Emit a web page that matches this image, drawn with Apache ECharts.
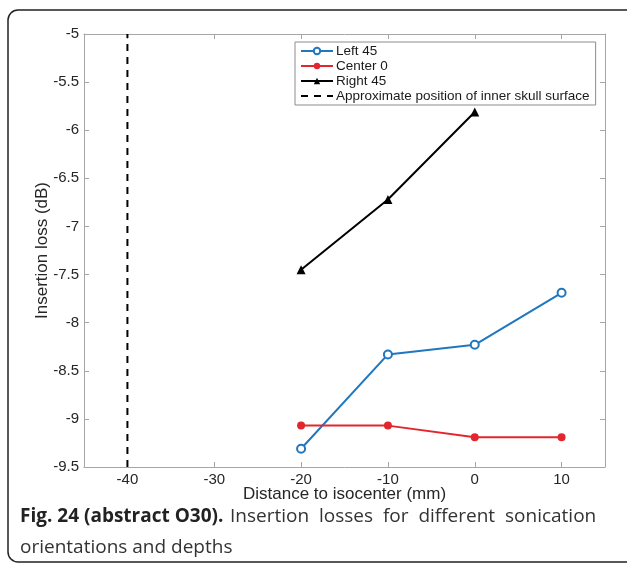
<!DOCTYPE html>
<html>
<head>
<meta charset="utf-8">
<script src="https://cdn.jsdelivr.net/npm/echarts@6/dist/echarts.min.js"></script>
<style>
  html, body { margin: 0; padding: 0; background: #fff; }
  #main { width: 627px; height: 568px; }
</style>
</head>
<body>
<div id="main"></div>
<script>
// distances (mm) where each orientation was measured
const distances = [-20, -10, 0, 10];
const left45 = [-9.31, -8.33, -8.23, -7.69];
const center0 = [-9.07, -9.07, -9.19, -9.19];
const right45 = [-7.45, -6.72, -5.81];
const skullX = -40;
const yRange = [-9.5, -5];

const xTicks = [-40, -30, -20, -10, 0, 10];

const axisGray = '#a6a6a6';
const labelColor = '#262626';
const font = '"Liberation Sans", Arial, sans-serif';

const pairs = (xs, ys) => ys.map((y, i) => [xs[i], y]);

const chart = echarts.init(document.getElementById('main'));

const baseX = {
  type: 'value',
  min: -45,
  max: 15,
  axisLine: { onZero: false, lineStyle: { color: axisGray, width: 1 } },
  axisTick: { inside: true, length: 5, customValues: xTicks, lineStyle: { color: axisGray } },
  splitLine: { show: false },
};
const baseY = {
  type: 'value',
  min: yRange[0],
  max: yRange[1],
  interval: 0.5,
  axisLine: { onZero: false, lineStyle: { color: axisGray, width: 1 } },
  axisTick: { inside: true, length: 5, lineStyle: { color: axisGray } },
  splitLine: { show: false },
};

const option = {
  animation: false,
  backgroundColor: '#fff',
  grid: { left: 84, right: 22, top: 34, bottom: 101 },
  xAxis: [
    Object.assign({}, baseX, {
      position: 'bottom',
      axisLabel: {
        color: labelColor, fontFamily: font, fontSize: 15, margin: 5,
        customValues: xTicks,
      },
      name: 'Distance to isocenter (mm)',
      nameLocation: 'middle',
      nameGap: 19,
      nameMoveOverlap: false,
      nameTextStyle: { color: labelColor, fontFamily: font, fontSize: 17 },
    }),
    Object.assign({}, baseX, { position: 'top', axisLabel: { show: false } }),
  ],
  yAxis: [
    Object.assign({}, baseY, {
      position: 'left',
      axisLabel: { color: labelColor, fontFamily: font, fontSize: 15, margin: 5 },
      name: 'Insertion loss (dB)',
      nameLocation: 'middle',
      nameGap: 33,
      nameMoveOverlap: false,
      nameTextStyle: { color: labelColor, fontFamily: font, fontSize: 17 },
    }),
    Object.assign({}, baseY, { position: 'right', axisLabel: { show: false } }),
  ],
  legend: {
    orient: 'vertical',
    left: 295,
    top: 42,
    padding: [2, 6, 2, 5],
    itemGap: 1,
    itemWidth: 32,
    itemHeight: 8,
    backgroundColor: '#fff',
    borderColor: '#8c8c8c',
    borderWidth: 1,
    textStyle: { color: '#1a1a1a', fontFamily: font, fontSize: 13.5, padding: [0, 0, 0, -2] },
    data: [
      'Left 45',
      'Center 0',
      'Right 45',
      { name: 'Approximate position of inner skull surface', itemStyle: { opacity: 0 } },
    ],
  },
  series: [
    {
      name: 'Left 45',
      type: 'line',
      data: pairs(distances, left45),
      symbol: 'emptyCircle',
      symbolSize: 8,
      color: '#1f77c0',
      lineStyle: { width: 2, color: '#1f77c0' },
      itemStyle: { color: '#1f77c0', borderWidth: 1.5 },
    },
    {
      name: 'Center 0',
      type: 'line',
      data: pairs(distances, center0),
      symbol: 'circle',
      symbolSize: 8,
      color: '#e3262e',
      lineStyle: { width: 2, color: '#e3262e' },
      itemStyle: { color: '#e3262e' },
    },
    {
      name: 'Right 45',
      type: 'line',
      data: pairs(distances, right45),
      symbol: 'triangle',
      symbolSize: 9,
      color: '#000',
      lineStyle: { width: 2, color: '#000' },
      itemStyle: { color: '#000' },
    },
    {
      name: 'Approximate position of inner skull surface',
      type: 'line',
      data: [[skullX, yRange[0]], [skullX, yRange[1]]],
      symbol: 'none',
      color: '#000',
      lineStyle: { width: 2, color: '#000', type: [7, 6] },
    },
  ],
  graphic: [
    {
      type: 'rect',
      shape: { x: 8, y: 10, width: 660, height: 552, r: 10 },
      style: { fill: 'none', stroke: '#222', lineWidth: 1.5 },
      silent: true,
    },
    {
      type: 'text',
      left: 20,
      top: 507,
      style: {
        // first line is justified in the source, hence the wider gaps
        text: '{b|Fig. 24 (abstract O30).}  {n|Insertion  losses  for  different  sonication}\n{n|orientations and depths}',
        rich: {
          b: { fontFamily: '"Open Sans", sans-serif', fontWeight: 'bold', fontSize: 19, fill: '#222', lineHeight: 31 },
          n: { fontFamily: '"Open Sans", sans-serif', fontSize: 19, fill: '#333', lineHeight: 31 },
        },
      },
    },
  ],
};

chart.setOption(option);
</script>
</body>
</html>
